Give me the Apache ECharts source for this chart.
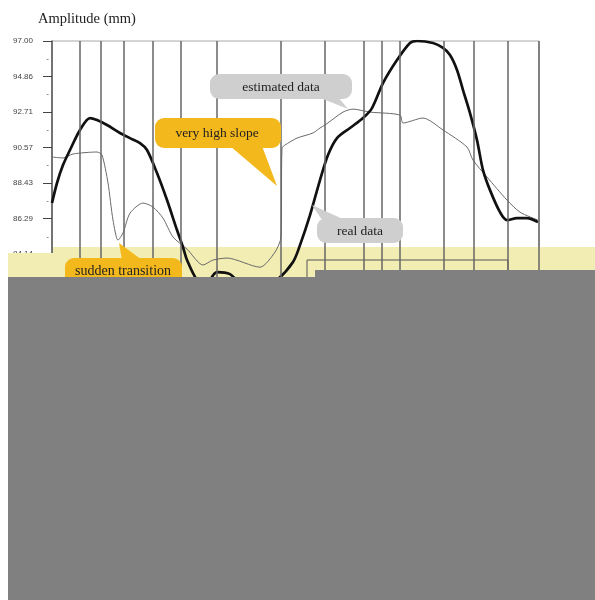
<!DOCTYPE html>
<html>
<head>
<meta charset="utf-8">
<script src="https://cdn.jsdelivr.net/npm/echarts@6/dist/echarts.min.js"></script>
<style>
  html, body { margin: 0; padding: 0; background: #fff; }
  #chart { width: 595px; height: 600px; }
</style>
</head>
<body>
<div id="chart"></div>
<script>
// real data (thick curve): sample position / amplitude in mm
var realX = [0, 5, 11, 18, 28, 38, 45, 55, 68, 78, 88, 95, 105, 115, 125, 131, 135, 145, 153, 165, 178, 188, 208, 225,
  241, 248, 258, 268, 276, 285, 298, 311, 320, 331, 345, 358, 365, 381, 391, 398, 405, 411, 418, 425, 431, 438, 448, 455, 465, 475, 486];
var realY = [87.22, 88.43, 89.51, 90.42, 91.63, 92.35, 92.23, 91.93, 91.45, 91.14, 90.84, 90.42, 89.03, 87.40, 85.59, 84.56, 83.78, 82.57, 82.27, 83.05, 82.93, 82.39, 81.97, 82.57,
  83.66, 84.68, 86.49, 88.61, 90.12, 91.14, 91.75, 92.35, 92.95, 94.46, 95.85, 96.88, 97.00, 96.88, 96.58, 96.15, 95.25, 94.04, 92.65, 91.02, 89.21, 88.00, 86.67, 86.19, 86.31, 86.31, 86.07];

// estimated data (thin curve)
var estX = [0, 11, 21, 45, 50, 56, 61, 66, 71, 78, 91, 101, 111, 121, 135, 151, 161, 175, 208, 223, 229,
  230, 233, 245, 261, 268, 273, 291, 301, 318, 348, 351, 371, 391, 415, 421, 435, 455, 468, 486];
var estY = [90.00, 89.94, 90.18, 90.30, 90.12, 88.43, 86.19, 84.98, 85.41, 86.61, 87.22, 86.98, 86.31, 85.17, 84.44, 83.48, 83.78, 83.90, 83.35, 84.26, 85.17,
  90.54, 90.72, 91.14, 91.45, 91.75, 91.93, 92.71, 92.89, 92.71, 92.53, 92.05, 92.35, 91.63, 90.60, 89.81, 88.79, 87.40, 86.67, 86.19];

// segment boundaries (vertical lines)
var segBounds = [28, 49, 72, 101, 129, 165, 229, 273, 312, 330, 348, 392, 422, 456, 487];

// y tick labels
var yTicks = [84.14, 86.29, 88.43, 90.57, 92.71, 94.86, 97.00];
var yMinor = [85.21, 87.36, 89.50, 91.64, 93.79, 95.93];

function pairs(xs, ys) {
  return xs.map(function (x, i) { return [x, ys[i]]; });
}

var serif = 'Liberation Serif';
var gold = '#f3b81b';
var bubbleGray = '#cfcfcf';

function bubble(box, tail, text, fill, tx, ty, size) {
  return [
    { type: 'rect', z: 10, shape: { x: box[0], y: box[1], width: box[2], height: box[3], r: 9 }, style: { fill: fill } },
    { type: 'polygon', z: 10, shape: { points: tail }, style: { fill: fill } },
    { type: 'text', z: 11, x: tx, y: ty, style: { text: text, fill: '#222', font: size + 'px "' + serif + '"', align: 'center', verticalAlign: 'middle' } }
  ];
}

var chart = echarts.init(document.getElementById('chart'));

var option = {
  animation: false,
  title: {
    text: 'Amplitude (mm)',
    left: 38,
    top: 12,
    padding: 0,
    textStyle: { fontFamily: serif, fontSize: 14.5, fontWeight: 'normal', color: '#222' }
  },
  grid: {
    left: 52, right: 56, top: 41, bottom: 275,
    show: true, borderColor: '#aaa', borderWidth: 1, backgroundColor: 'transparent'
  },
  xAxis: {
    type: 'value', min: 0, max: 487, show: false
  },
  yAxis: {
    type: 'value', min: 79.86, max: 97,
    splitLine: { show: false },
    axisLine: { show: true, lineStyle: { color: '#555', width: 1.5 } },
    axisTick: { show: true, customValues: yTicks, length: 9, lineStyle: { color: '#444', width: 1 } },
    axisLabel: {
      customValues: yTicks.concat(yMinor),
      margin: 3,
      fontSize: 8,
      color: '#444',
      fontFamily: 'Liberation Sans',
      formatter: function (v) {
        return yTicks.indexOf(v) >= 0 ? '{a|' + v.toFixed(2) + '}' : '-';
      },
      rich: { a: { fontSize: 8, color: '#444', fontFamily: 'Liberation Sans', padding: [0, 16, 0, 0] } }
    }
  },
  series: [
    {
      // vertical segment lines
      type: 'line', z: 2, data: [[0, 97]], showSymbol: false, lineStyle: { width: 0 },
      markLine: {
        silent: true, symbol: ['none', 'none'], label: { show: false },
        lineStyle: { color: '#666', width: 1.5, type: 'solid' },
        data: segBounds.map(function (x) { return { xAxis: x }; })
      }
    },
    {
      name: 'estimated data', type: 'line', z: 3, data: pairs(estX, estY),
      showSymbol: false, smooth: 0.25,
      lineStyle: { color: '#6a6a6a', width: 1 }
    },
    {
      name: 'real data', type: 'line', z: 4, data: pairs(realX, realY),
      showSymbol: false, smooth: 0.3,
      lineStyle: { color: '#111', width: 2.7 }
    }
  ],
  graphic: [].concat(
    // pale yellow panel overlapping the bottom of the plot
    [
      { type: 'rect', z: 1, shape: { x: 8, y: 253, width: 45, height: 25 }, style: { fill: '#f2edb3' } },
      { type: 'rect', z: 1, shape: { x: 53, y: 247, width: 542, height: 31 }, style: { fill: '#f2edb3' } },
      { type: 'rect', z: 5, shape: { x: 307, y: 260, width: 201, height: 40 }, style: { fill: 'none', stroke: '#555', lineWidth: 1 } }
    ],
    bubble([210, 74, 142, 25], [[318, 97], [338, 97], [348, 109]], 'estimated data', bubbleGray, 281, 87, 13.5),
    bubble([155, 118, 126, 30], [[230, 146], [262, 146], [277, 186]], 'very high slope', gold, 217, 133, 13.5),
    bubble([317, 218, 86, 25], [[312, 205], [322, 220], [345, 220]], 'real data', bubbleGray, 360, 231, 13.5),
    bubble([65, 258, 117, 30], [[119, 243], [122, 260], [142, 260]], 'sudden transition', gold, 123, 271, 14),
    // grey block covering the lower part
    [
      { type: 'rect', z: 100, shape: { x: 8, y: 277, width: 587, height: 323 }, style: { fill: '#808080' } },
      { type: 'rect', z: 100, shape: { x: 315, y: 270, width: 280, height: 8 }, style: { fill: '#808080' } }
    ]
  )
};

chart.setOption(option);
</script>
</body>
</html>
